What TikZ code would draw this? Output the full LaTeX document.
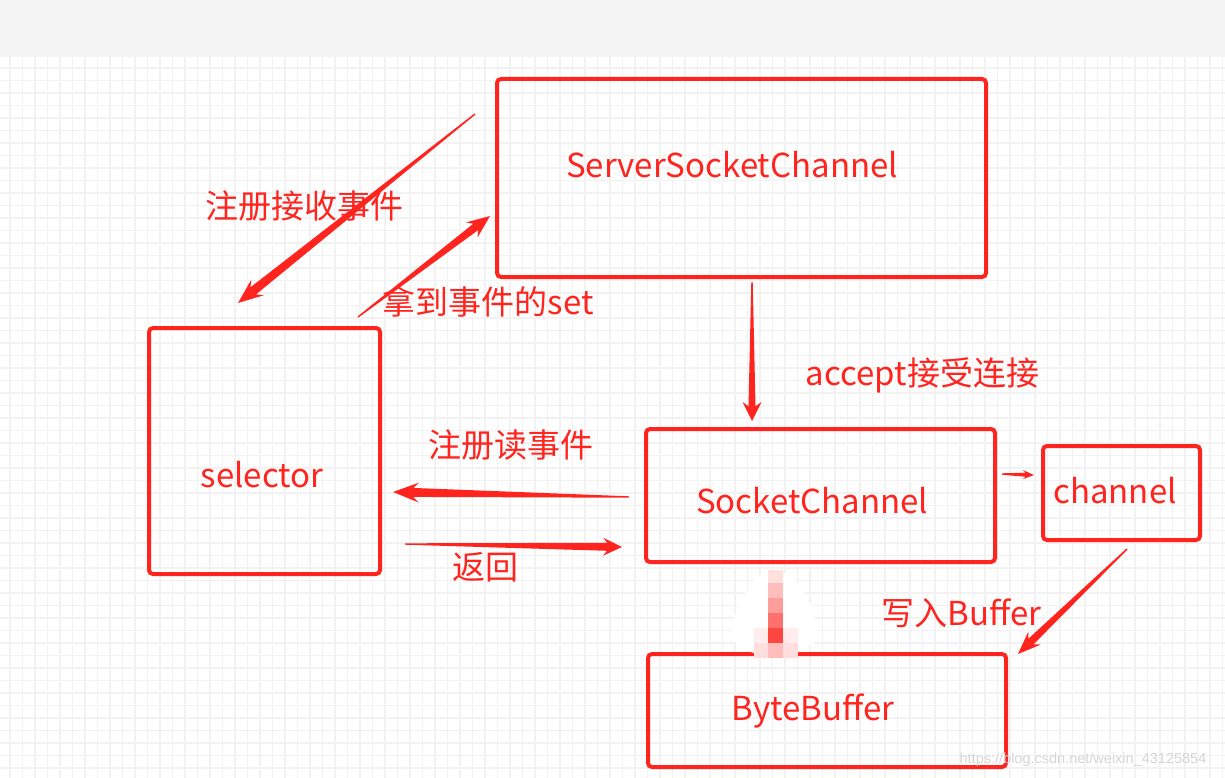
\documentclass[tikz,border=0pt]{standalone}
\usepackage{fontspec}
\setmainfont{Noto Sans CJK SC}
\newfontfamily\markfont{Liberation Sans}
\usepackage{xcolor}
\usetikzlibrary{calc}

\definecolor{penred}{RGB}{255,36,30}
\definecolor{gridgray}{RGB}{242,242,242}
\definecolor{topgray}{RGB}{244,244,244}
\definecolor{markgray}{RGB}{214,214,214}

% tapered arrow: tail, tip, head length, head half width, shaft half width
\newcommand{\taperarrow}[5]{%
  \coordinate (hb) at ($(#2)!#3!(#1)$);
  \coordinate (hn) at ($(#2)!0.78*#3!(#1)$);
  \fill[penred] ($(#1)!0.7pt!90:(#2)$) -- ($(hn)!#5!90:(#2)$) -- ($(hb)!#4!90:(#2)$)
    -- (#2) -- ($(hb)!#4!-90:(#2)$) -- ($(hn)!#5!-90:(#2)$) -- ($(#1)!0.7pt!-90:(#2)$) -- cycle;
}

\begin{document}
\begin{tikzpicture}[x=1pt,y=-1pt,
  box/.style={draw=penred, line width=4pt, rounded corners=4pt, inner sep=0pt},
  txt/.style={text=penred, font=\fontsize{33}{39}\selectfont, inner sep=0pt},
  gridline/.style={gridgray, line width=1.6pt}]
\useasboundingbox (0,0) rectangle (1225,778);

% background
\fill[white] (0,0) rectangle (1225,778);
\fill[topgray] (0,0) rectangle (1225,57);
\foreach \gx in {10,22.5,...,1225} \draw[gridline] (\gx,57) -- (\gx,778);
\foreach \gy in {68,80.5,...,778} \draw[gridline] (0,\gy) -- (1225,\gy);

% boxes
\node[box, minimum width=489pt, minimum height=198pt] (server) at (741.5,178) {};
\node[box, minimum width=231pt, minimum height=246pt] (selector) at (264.5,451) {};
\node[box, minimum width=349pt, minimum height=133pt] (sockch) at (820.5,495.5) {};
\node[box, minimum width=157pt, minimum height=94pt] (channel) at (1121.5,493) {};
\node[box, minimum width=358pt, minimum height=113pt] (bytebuf) at (827,710.5) {};

\node[txt] (serverText) at (732,165) {ServerSocketChannel};
\node[txt] (selectorText) at (262,475) {selector};
\node[txt] (sockchText) at (812,501) {SocketChannel};
\node[txt] (channelText) at (1115,491) {channel};
\node[txt] (bytebufText) at (813,711) {ByteBuffer};

% blurred arrow
\fill[white] (775,570) .. controls (800,570) and (818,615) .. (817,635)
  .. controls (816,650) and (790,656) .. (775,656)
  .. controls (760,656) and (733,650) .. (732,635)
  .. controls (731,615) and (750,570) .. (775,570);
\fill[penred!8] (754,628) rectangle (798,643);
\fill[penred!15] (754,643) rectangle (798,658);
\foreach \ry/\rc in {570/14,583/30,598/45,613/65,628/85,643/30}
  \fill[penred!\rc] (768,\ry) rectangle (783,\ry+15);

% arrows
\coordinate (regAcceptTail) at (475,114);
\coordinate (regAcceptTip) at (238,303);
\coordinate (gotSetTail) at (358,317);
\coordinate (gotSetTip) at (490,216);
\coordinate (acceptTail) at (752,282);
\coordinate (acceptTip) at (752,421);
\coordinate (regReadTail) at (629,497);
\coordinate (regReadTip) at (393,492);
\coordinate (backTail) at (405,544);
\coordinate (backTip) at (622,547);
\coordinate (toChannelTail) at (1002,474);
\coordinate (toChannelTip) at (1034,475);
\coordinate (toBufferTail) at (1127,549);
\coordinate (toBufferTip) at (1018,654);

\taperarrow{regAcceptTail}{regAcceptTip}{25pt}{10pt}{4.5pt}
\taperarrow{gotSetTail}{gotSetTip}{23pt}{9.5pt}{4pt}
\taperarrow{acceptTail}{acceptTip}{19pt}{9.5pt}{3.5pt}
\taperarrow{regReadTail}{regReadTip}{26pt}{10pt}{4.5pt}
\taperarrow{backTail}{backTip}{19pt}{9pt}{4pt}
\taperarrow{toChannelTail}{toChannelTip}{11pt}{4.5pt}{2pt}
\taperarrow{toBufferTail}{toBufferTip}{23pt}{9pt}{3.8pt}

% labels
\node[txt] (regAcceptText) at (304,206) {注册接收事件};
\node[txt] (gotSetText) at (488,302) {拿到事件的set};
\node[txt] (acceptText) at (922.5,375) {accept接受连接};
\node[txt] (regReadText) at (511,445) {注册读事件};
\node[txt] (backText) at (485.5,567) {返回};
\node[txt] (toBufferText) at (961.5,613) {写入Buffer};

\node[text=markgray, font=\markfont\fontsize{14.5}{17}\selectfont, inner sep=0pt] (mark) at (1083,760) {https://blog.csdn.net/weixin\_43125854};
\end{tikzpicture}
\end{document}
